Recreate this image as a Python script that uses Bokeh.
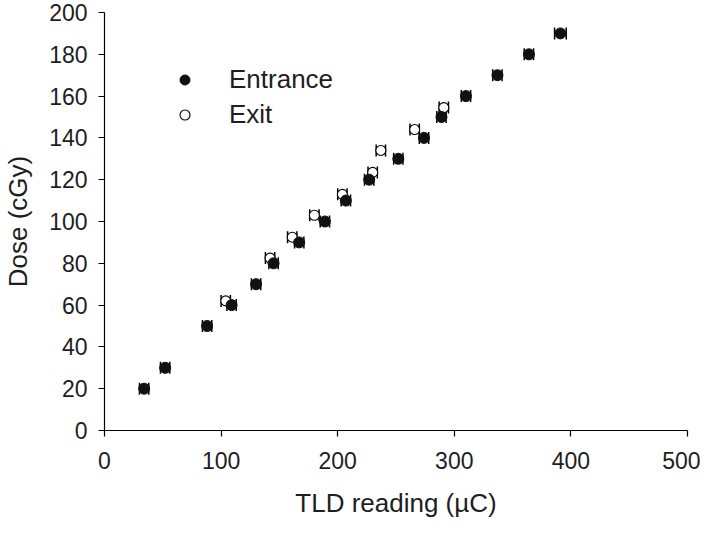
from bokeh.plotting import figure
from bokeh.models import (ColumnDataSource, Whisker, TeeHead, Range1d, FixedTicker,
                          Legend, LegendItem)
from bokeh.embed import file_html
from bokeh.resources import INLINE

# ---- data ----
entrance_x = [34, 52, 88, 109, 130, 145, 167, 189, 207, 227, 252, 274, 289, 310, 337, 364, 391]
entrance_y = [20, 30, 50, 60, 70, 80, 90, 100, 110, 120, 130, 140, 150, 160, 170, 180, 190]
entrance_err = [4, 4, 4, 4, 4, 4, 4, 4, 4, 4, 4, 4, 4, 4, 4, 4, 5]

exit_x = [104, 142, 161, 180, 204, 230, 237, 266, 291]
exit_y = [62, 82.5, 92.5, 103, 113, 123.5, 134, 144, 154.5]
exit_err = [4, 4, 4, 4, 4, 4, 4, 4, 4]

x_ticks = [0, 100, 200, 300, 400, 500]
y_ticks = [0, 20, 40, 60, 80, 100, 120, 140, 160, 180, 200]

x_title = "TLD reading (µC)"
y_title = "Dose (cGy)"

FONT = "Liberation Sans"
TXT = "#1e1e1e"

ent_src = ColumnDataSource(dict(
    x=entrance_x, y=entrance_y,
    lo=[a - e for a, e in zip(entrance_x, entrance_err)],
    hi=[a + e for a, e in zip(entrance_x, entrance_err)]))
exit_src = ColumnDataSource(dict(
    x=exit_x, y=exit_y,
    lo=[a - e for a, e in zip(exit_x, exit_err)],
    hi=[a + e for a, e in zip(exit_x, exit_err)]))

p = figure(width=700, height=521, output_backend="svg", toolbar_location=None,
           x_range=Range1d(0, 500), y_range=Range1d(0, 200),
           min_border_left=97, min_border_right=13, min_border_top=12, min_border_bottom=91)
p.outline_line_color = None
p.xgrid.visible = False
p.ygrid.visible = False
p.background_fill_color = "white"
p.border_fill_color = "white"

for ax in (p.xaxis[0], p.yaxis[0]):
    ax.axis_line_color = "black"
    ax.axis_line_width = 1.2
    ax.major_tick_line_color = "black"
    ax.major_tick_line_width = 1.2
    ax.major_tick_in = 0
    ax.major_tick_out = 6
    ax.minor_tick_line_color = None
    ax.major_label_text_font = FONT
    ax.major_label_text_font_size = "23px"
    ax.major_label_text_color = TXT
    ax.major_label_text_line_height = 1.0
    ax.axis_label_text_font = FONT
    ax.axis_label_text_font_size = "26px"
    ax.axis_label_text_font_style = "normal"
    ax.axis_label_text_color = TXT
    ax.axis_label_text_line_height = 1.0

p.xaxis.ticker = FixedTicker(ticks=x_ticks)
p.yaxis.ticker = FixedTicker(ticks=y_ticks)
p.xaxis.axis_label = x_title
p.yaxis.axis_label = y_title
p.xaxis.major_label_standoff = 15
p.yaxis.major_label_standoff = 11
p.xaxis.axis_label_standoff = 16
p.yaxis.axis_label_standoff = 13

def whisker(src):
    return Whisker(source=src, base="y", lower="lo", upper="hi", dimension="width",
                   line_color="black", line_width=1.5,
                   lower_head=TeeHead(size=12, line_color="black", line_width=1.5),
                   upper_head=TeeHead(size=12, line_color="black", line_width=1.5))

p.add_layout(whisker(exit_src))
p.add_layout(whisker(ent_src))

r_exit = p.scatter("x", "y", source=exit_src, size=10, marker="circle",
                   fill_color="white", line_color="black", line_width=1.1)
r_ent = p.scatter("x", "y", source=ent_src, size=11, marker="circle",
                  fill_color="#111111", line_color="#111111", line_width=1)

legend = Legend(items=[LegendItem(label="Entrance", renderers=[r_ent]),
                       LegendItem(label="Exit", renderers=[r_exit])],
                location=(68, 298), orientation="vertical",
                border_line_color=None, background_fill_alpha=0,
                padding=0, margin=0, spacing=0,
                glyph_width=25, glyph_height=35, label_standoff=32,
                label_text_font=FONT, label_text_font_size="26px",
                label_text_color=TXT, label_text_baseline="middle")
p.add_layout(legend)

open("out.html", "w").write(file_html(p, INLINE))
